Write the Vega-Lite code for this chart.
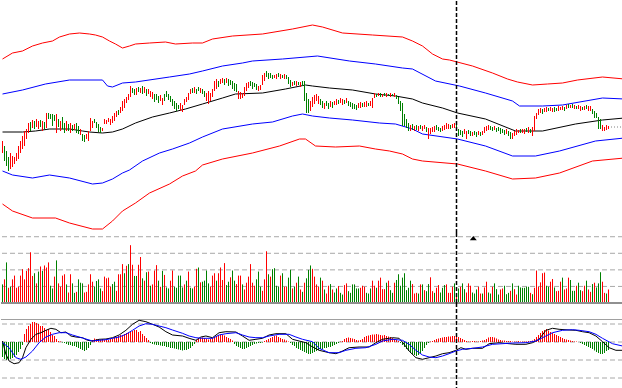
{
"$schema":"https://vega.github.io/schema/vega-lite/v6.json",
"padding":0,"spacing":0,"bounds":"flush","background":"white",
"config":{"view":{"stroke":null}},
"datasets":{
"bars":[
{"i":0,"h":160,"l":148,"u":1,"v":55,"w":0,"m":-15},{"i":1,"h":155,"l":140,"u":0,"v":70,"w":1,"m":-17},{"i":2,"h":150,"l":135,"u":0,"v":120,"w":0,"m":-18},{"i":3,"h":144,"l":130,"u":0,"v":45,"w":1,"m":-18},{"i":4,"h":148,"l":132,"u":1,"v":48,"w":0,"m":-17},{"i":5,"h":145,"l":134,"u":1,"v":70,"w":1,"m":-16},{"i":6,"h":144,"l":137,"u":1,"v":81,"w":1,"m":-15},{"i":7,"h":148,"l":140,"u":1,"v":45,"w":1,"m":-13},{"i":8,"h":155,"l":142,"u":1,"v":48,"w":1,"m":-10},{"i":9,"h":160,"l":148,"u":1,"v":81,"w":1,"m":-7},
{"i":10,"h":165,"l":152,"u":1,"v":100,"w":1,"m":-3},{"i":11,"h":170,"l":155,"u":1,"v":70,"w":1,"m":8},{"i":12,"h":172,"l":162,"u":1,"v":95,"w":1,"m":13},{"i":13,"h":178,"l":168,"u":1,"v":103,"w":1,"m":16},{"i":14,"h":179,"l":170,"u":0,"v":150,"w":1,"m":18},{"i":15,"h":181,"l":173,"u":1,"v":80,"w":1,"m":20},{"i":16,"h":180,"l":172,"u":0,"v":88,"w":0,"m":20},{"i":17,"h":182,"l":174,"u":1,"v":58,"w":1,"m":19},{"i":18,"h":180,"l":172,"u":1,"v":93,"w":0,"m":18},{"i":19,"h":181,"l":174,"u":0,"v":108,"w":1,"m":16},
{"i":20,"h":180,"l":170,"u":1,"v":95,"w":0,"m":16},{"i":21,"h":179,"l":172,"u":0,"v":111,"w":1,"m":14},{"i":22,"h":188,"l":173,"u":1,"v":105,"w":1,"m":12},{"i":23,"h":188,"l":182,"u":0,"v":120,"w":1,"m":13},{"i":24,"h":187,"l":182,"u":0,"v":51,"w":0,"m":10},{"i":25,"h":187,"l":175,"u":0,"v":43,"w":0,"m":7},{"i":26,"h":186,"l":180,"u":0,"v":78,"w":1,"m":6},{"i":27,"h":187,"l":168,"u":1,"v":126,"w":0,"m":3},{"i":28,"h":182,"l":174,"u":0,"v":58,"w":1,"m":1},{"i":29,"h":180,"l":170,"u":1,"v":48,"w":1,"m":0.5},
{"i":30,"h":184,"l":172,"u":0,"v":81,"w":1,"m":-0.5},{"i":31,"h":178,"l":168,"u":0,"v":85,"w":1,"m":-1},{"i":32,"h":180,"l":170,"u":1,"v":55,"w":0,"m":-2},{"i":33,"h":177,"l":170,"u":0,"v":31,"w":1,"m":-3},{"i":34,"h":178,"l":168,"u":1,"v":85,"w":1,"m":-3},{"i":35,"h":176,"l":170,"u":0,"v":58,"w":0,"m":-4},{"i":36,"h":177,"l":171,"u":1,"v":30,"w":0,"m":-4},{"i":37,"h":178,"l":168,"u":0,"v":33,"w":1,"m":-5},{"i":38,"h":175,"l":167,"u":0,"v":70,"w":0,"m":-6},{"i":39,"h":172,"l":166,"u":1,"v":60,"w":0,"m":-7},
{"i":40,"h":167,"l":160,"u":0,"v":58,"w":0,"m":-8},{"i":41,"h":166,"l":159,"u":0,"v":31,"w":1,"m":-9},{"i":42,"h":167,"l":162,"u":1,"v":33,"w":1,"m":-8},{"i":43,"h":170,"l":160,"u":1,"v":55,"w":1,"m":-6},{"i":44,"h":183,"l":170,"u":1,"v":85,"w":1,"m":-3},{"i":45,"h":180,"l":173,"u":1,"v":63,"w":1,"m":2},{"i":46,"h":182,"l":178,"u":0,"v":48,"w":0,"m":3.5},{"i":47,"h":179,"l":173,"u":0,"v":65,"w":0,"m":3},{"i":48,"h":177,"l":169,"u":0,"v":70,"w":0,"m":2.5},{"i":49,"h":174,"l":168,"u":0,"v":43,"w":0,"m":2},
{"i":50,"h":173,"l":170,"u":1,"v":35,"w":1,"m":3},{"i":51,"h":182,"l":177,"u":1,"v":78,"w":1,"m":2},{"i":52,"h":181,"l":177,"u":1,"v":73,"w":1,"m":2.5},{"i":53,"h":183,"l":179,"u":1,"v":75,"w":1,"m":2},{"i":54,"h":182,"l":176,"u":1,"v":48,"w":1,"m":3},{"i":55,"h":185,"l":178,"u":1,"v":56,"w":0,"m":3.5},{"i":56,"h":188,"l":180,"u":1,"v":63,"w":0,"m":5},{"i":57,"h":190,"l":184,"u":1,"v":36,"w":1,"m":5},{"i":58,"h":191,"l":186,"u":0,"v":85,"w":1,"m":6},{"i":59,"h":194,"l":188,"u":1,"v":85,"w":1,"m":7},
{"i":60,"h":200,"l":190,"u":1,"v":115,"w":1,"m":7},{"i":61,"h":202,"l":193,"u":1,"v":88,"w":0,"m":8},{"i":62,"h":204,"l":198,"u":1,"v":110,"w":1,"m":9},{"i":63,"h":207,"l":201,"u":1,"v":115,"w":0,"m":9.5},{"i":64,"h":215,"l":204,"u":1,"v":171,"w":1,"m":10},{"i":65,"h":213,"l":208,"u":0,"v":113,"w":1,"m":11},{"i":66,"h":212,"l":206,"u":0,"v":80,"w":0,"m":12},{"i":67,"h":213,"l":206,"u":1,"v":80,"w":0,"m":12},{"i":68,"h":214,"l":209,"u":0,"v":113,"w":1,"m":10},{"i":69,"h":213,"l":208,"u":1,"v":136,"w":1,"m":11},
{"i":70,"h":215,"l":207,"u":0,"v":73,"w":0,"m":8},{"i":71,"h":214,"l":208,"u":1,"v":66,"w":1,"m":6},{"i":72,"h":212,"l":205,"u":0,"v":91,"w":0,"m":4},{"i":73,"h":212,"l":207,"u":1,"v":93,"w":1,"m":2},{"i":74,"h":210,"l":204,"u":1,"v":51,"w":0,"m":-1},{"i":75,"h":209,"l":202,"u":1,"v":55,"w":1,"m":-2},{"i":76,"h":207,"l":199,"u":0,"v":96,"w":1,"m":-2.5},{"i":77,"h":207,"l":201,"u":0,"v":112,"w":1,"m":-3},{"i":78,"h":205,"l":198,"u":0,"v":66,"w":0,"m":-3},{"i":79,"h":206,"l":200,"u":1,"v":48,"w":1,"m":-3.5},
{"i":80,"h":203,"l":196,"u":1,"v":95,"w":0,"m":-4},{"i":81,"h":207,"l":200,"u":0,"v":83,"w":1,"m":-4},{"i":82,"h":210,"l":204,"u":0,"v":46,"w":0,"m":-5},{"i":83,"h":207,"l":201,"u":0,"v":43,"w":0,"m":-5},{"i":84,"h":205,"l":199,"u":0,"v":66,"w":1,"m":-6},{"i":85,"h":202,"l":195,"u":0,"v":96,"w":1,"m":-6},{"i":86,"h":200,"l":192,"u":0,"v":48,"w":0,"m":-6.5},{"i":87,"h":198,"l":190,"u":0,"v":45,"w":0,"m":-7},{"i":88,"h":196,"l":192,"u":0,"v":81,"w":0,"m":-7.5},{"i":89,"h":198,"l":190,"u":1,"v":81,"w":0,"m":-8},
{"i":90,"h":196,"l":189,"u":1,"v":46,"w":0,"m":-8.5},{"i":91,"h":202,"l":196,"u":1,"v":55,"w":1,"m":-8},{"i":92,"h":204,"l":199,"u":1,"v":66,"w":0,"m":-8},{"i":93,"h":208,"l":201,"u":1,"v":93,"w":1,"m":-7},{"i":94,"h":212,"l":207,"u":1,"v":45,"w":0,"m":-6},{"i":95,"h":213,"l":208,"u":0,"v":43,"w":0,"m":-4},{"i":96,"h":214,"l":208,"u":1,"v":48,"w":1,"m":-2},{"i":97,"h":212,"l":207,"u":0,"v":101,"w":1,"m":2},{"i":98,"h":214,"l":210,"u":0,"v":105,"w":0,"m":3},{"i":99,"h":213,"l":208,"u":1,"v":61,"w":1,"m":4},
{"i":100,"h":212,"l":207,"u":0,"v":63,"w":0,"m":4.5},{"i":101,"h":210,"l":204,"u":0,"v":66,"w":0,"m":4},{"i":102,"h":208,"l":200,"u":1,"v":96,"w":0,"m":3},{"i":103,"h":210,"l":197,"u":1,"v":58,"w":0,"m":2.5},{"i":104,"h":208,"l":200,"u":1,"v":48,"w":1,"m":3},{"i":105,"h":212,"l":204,"u":1,"v":81,"w":1,"m":4},{"i":106,"h":220,"l":210,"u":1,"v":88,"w":1,"m":5},{"i":107,"h":222,"l":212,"u":1,"v":66,"w":0,"m":6},{"i":108,"h":220,"l":214,"u":0,"v":88,"w":1,"m":7},{"i":109,"h":222,"l":217,"u":1,"v":105,"w":1,"m":7.5},
{"i":110,"h":223,"l":218,"u":1,"v":68,"w":1,"m":7},{"i":111,"h":222,"l":216,"u":0,"v":118,"w":1,"m":6.5},{"i":112,"h":223,"l":218,"u":1,"v":53,"w":0,"m":5},{"i":113,"h":222,"l":215,"u":0,"v":63,"w":0,"m":4},{"i":114,"h":221,"l":216,"u":0,"v":76,"w":1,"m":3},{"i":115,"h":220,"l":212,"u":0,"v":96,"w":0,"m":1.5},{"i":116,"h":218,"l":210,"u":0,"v":66,"w":0,"m":-2},{"i":117,"h":217,"l":209,"u":0,"v":56,"w":1,"m":-4},{"i":118,"h":210,"l":202,"u":1,"v":81,"w":1,"m":-5},{"i":119,"h":209,"l":202,"u":1,"v":81,"w":1,"m":-6},
{"i":120,"h":208,"l":203,"u":1,"v":55,"w":0,"m":-7},{"i":121,"h":214,"l":205,"u":1,"v":40,"w":1,"m":-7},{"i":122,"h":218,"l":210,"u":1,"v":60,"w":1,"m":-6},{"i":123,"h":219,"l":213,"u":1,"v":78,"w":1,"m":-5},{"i":124,"h":220,"l":215,"u":0,"v":115,"w":1,"m":-4},{"i":125,"h":219,"l":212,"u":0,"v":60,"w":1,"m":-3},{"i":126,"h":218,"l":214,"u":0,"v":51,"w":1,"m":-2},{"i":127,"h":217,"l":211,"u":0,"v":70,"w":0,"m":-1.5},{"i":128,"h":215,"l":210,"u":1,"v":93,"w":0,"m":-1},{"i":129,"h":216,"l":211,"u":1,"v":48,"w":0,"m":-1},
{"i":130,"h":226,"l":216,"u":1,"v":36,"w":1,"m":-0.5},{"i":131,"h":228,"l":220,"u":1,"v":70,"w":1,"m":1},{"i":132,"h":230,"l":224,"u":0,"v":153,"w":1,"m":2},{"i":133,"h":228,"l":222,"u":0,"v":85,"w":0,"m":3},{"i":134,"h":228,"l":223,"u":0,"v":78,"w":1,"m":4},{"i":135,"h":226,"l":222,"u":0,"v":100,"w":0,"m":5},{"i":136,"h":226,"l":223,"u":1,"v":103,"w":0,"m":6},{"i":137,"h":227,"l":222,"u":1,"v":51,"w":0,"m":6.5},{"i":138,"h":228,"l":224,"u":0,"v":48,"w":0,"m":5},{"i":139,"h":227,"l":222,"u":1,"v":81,"w":1,"m":4},
{"i":140,"h":226,"l":223,"u":0,"v":88,"w":0,"m":3},{"i":141,"h":227,"l":222,"u":1,"v":48,"w":1,"m":2.5},{"i":142,"h":226,"l":222,"u":0,"v":48,"w":1,"m":1.5},{"i":143,"h":224,"l":217,"u":0,"v":75,"w":0,"m":0.5},{"i":144,"h":221,"l":214,"u":0,"v":98,"w":0,"m":-1},{"i":145,"h":219,"l":215,"u":1,"v":43,"w":1,"m":-3},{"i":146,"h":220,"l":216,"u":0,"v":48,"w":0,"m":-4},{"i":147,"h":220,"l":215,"u":1,"v":60,"w":1,"m":-6},{"i":148,"h":219,"l":216,"u":0,"v":78,"w":0,"m":-7},{"i":149,"h":219,"l":214,"u":1,"v":40,"w":1,"m":-8},
{"i":150,"h":220,"l":215,"u":0,"v":33,"w":0,"m":-9},{"i":151,"h":220,"l":200,"u":0,"v":60,"w":1,"m":-10},{"i":152,"h":208,"l":188,"u":0,"v":73,"w":0,"m":-11},{"i":153,"h":202,"l":188,"u":0,"v":98,"w":0,"m":-12},{"i":154,"h":200,"l":190,"u":1,"v":111,"w":0,"m":-12},{"i":155,"h":204,"l":194,"u":1,"v":101,"w":1,"m":-11},{"i":156,"h":206,"l":197,"u":1,"v":78,"w":1,"m":-10},{"i":157,"h":207,"l":200,"u":1,"v":55,"w":1,"m":-9},{"i":158,"h":205,"l":197,"u":1,"v":48,"w":1,"m":-8},{"i":159,"h":202,"l":196,"u":0,"v":75,"w":0,"m":-7},
{"i":160,"h":200,"l":193,"u":0,"v":66,"w":1,"m":-7},{"i":161,"h":198,"l":192,"u":1,"v":40,"w":0,"m":-6},{"i":162,"h":200,"l":195,"u":0,"v":28,"w":1,"m":-6},{"i":163,"h":198,"l":192,"u":0,"v":51,"w":1,"m":-5},{"i":164,"h":200,"l":194,"u":1,"v":56,"w":0,"m":-5},{"i":165,"h":199,"l":193,"u":0,"v":40,"w":1,"m":-4},{"i":166,"h":200,"l":196,"u":1,"v":31,"w":0,"m":-3},{"i":167,"h":202,"l":196,"u":1,"v":43,"w":0,"m":-2},{"i":168,"h":201,"l":197,"u":0,"v":50,"w":1,"m":-1},{"i":169,"h":203,"l":198,"u":1,"v":30,"w":0,"m":0.5},
{"i":170,"h":202,"l":196,"u":1,"v":25,"w":0,"m":1},{"i":171,"h":201,"l":197,"u":0,"v":53,"w":1,"m":3},{"i":172,"h":203,"l":198,"u":1,"v":58,"w":1,"m":4},{"i":173,"h":200,"l":195,"u":0,"v":35,"w":0,"m":4.5},{"i":174,"h":199,"l":194,"u":0,"v":30,"w":0,"m":4},{"i":175,"h":198,"l":192,"u":0,"v":55,"w":0,"m":3.5},{"i":176,"h":197,"l":192,"u":0,"v":55,"w":0,"m":3},{"i":177,"h":196,"l":191,"u":0,"v":43,"w":0,"m":2},{"i":178,"h":198,"l":193,"u":1,"v":43,"w":0,"m":1.5},{"i":179,"h":199,"l":193,"u":1,"v":45,"w":1,"m":2},
{"i":180,"h":198,"l":194,"u":0,"v":51,"w":1,"m":3},{"i":181,"h":199,"l":194,"u":1,"v":48,"w":1,"m":5},{"i":182,"h":200,"l":194,"u":1,"v":30,"w":0,"m":6},{"i":183,"h":198,"l":195,"u":0,"v":28,"w":0,"m":6.5},{"i":184,"h":200,"l":195,"u":1,"v":43,"w":0,"m":7},{"i":185,"h":203,"l":193,"u":1,"v":66,"w":1,"m":7.5},{"i":186,"h":208,"l":203,"u":1,"v":51,"w":1,"m":7.5},{"i":187,"h":207,"l":204,"u":0,"v":45,"w":0,"m":8},{"i":188,"h":208,"l":205,"u":1,"v":66,"w":1,"m":7.5},{"i":189,"h":208,"l":204,"u":0,"v":75,"w":1,"m":7},
{"i":190,"h":207,"l":204,"u":1,"v":41,"w":1,"m":6.5},{"i":191,"h":208,"l":205,"u":0,"v":41,"w":1,"m":7},{"i":192,"h":208,"l":204,"u":1,"v":60,"w":0,"m":6},{"i":193,"h":207,"l":205,"u":0,"v":66,"w":1,"m":5.5},{"i":194,"h":208,"l":204,"u":1,"v":38,"w":0,"m":5},{"i":195,"h":207,"l":205,"u":0,"v":30,"w":0,"m":4},{"i":196,"h":208,"l":204,"u":1,"v":60,"w":1,"m":3},{"i":197,"h":206,"l":202,"u":0,"v":68,"w":0,"m":2},{"i":198,"h":204,"l":197,"u":0,"v":85,"w":0,"m":1},{"i":199,"h":200,"l":190,"u":0,"v":51,"w":0,"m":-1},
{"i":200,"h":198,"l":175,"u":0,"v":75,"w":0,"m":-3},{"i":201,"h":187,"l":175,"u":0,"v":88,"w":0,"m":-5},{"i":202,"h":182,"l":173,"u":0,"v":38,"w":0,"m":-7},{"i":203,"h":178,"l":170,"u":0,"v":45,"w":0,"m":-9},{"i":204,"h":176,"l":170,"u":1,"v":66,"w":0,"m":-11},{"i":205,"h":177,"l":171,"u":0,"v":56,"w":1,"m":-12.5},{"i":206,"h":175,"l":170,"u":1,"v":28,"w":1,"m":-13},{"i":207,"h":176,"l":171,"u":0,"v":30,"w":1,"m":-14},{"i":208,"h":175,"l":170,"u":1,"v":28,"w":0,"m":-13},{"i":209,"h":176,"l":172,"u":0,"v":55,"w":1,"m":-11},
{"i":210,"h":175,"l":170,"u":1,"v":55,"w":0,"m":-9},{"i":211,"h":176,"l":172,"u":1,"v":38,"w":1,"m":-6},{"i":212,"h":174,"l":169,"u":0,"v":35,"w":0,"m":-3},{"i":213,"h":173,"l":162,"u":1,"v":56,"w":0,"m":-1},{"i":214,"h":173,"l":167,"u":1,"v":76,"w":1,"m":0.5},{"i":215,"h":174,"l":169,"u":1,"v":35,"w":1,"m":1},{"i":216,"h":175,"l":169,"u":1,"v":30,"w":0,"m":2},{"i":217,"h":176,"l":171,"u":0,"v":45,"w":1,"m":3},{"i":218,"h":174,"l":170,"u":0,"v":53,"w":1,"m":3.5},{"i":219,"h":173,"l":169,"u":0,"v":31,"w":0,"m":4},
{"i":220,"h":175,"l":170,"u":1,"v":45,"w":0,"m":4.5},{"i":221,"h":176,"l":171,"u":1,"v":53,"w":0,"m":5},{"i":222,"h":178,"l":172,"u":1,"v":55,"w":1,"m":5},{"i":223,"h":177,"l":172,"u":1,"v":30,"w":1,"m":5.5},{"i":224,"h":176,"l":172,"u":0,"v":30,"w":1,"m":5.5},{"i":225,"h":177,"l":173,"u":1,"v":48,"w":1,"m":6},{"i":226,"h":178,"l":173,"u":1,"v":58,"w":0,"m":6},{"i":227,"h":176,"l":172,"u":0,"v":25,"w":1,"m":5.5},{"i":228,"h":172,"l":165,"u":0,"v":43,"w":0,"m":5},{"i":229,"h":171,"l":166,"u":0,"v":48,"w":1,"m":4},
{"i":230,"h":170,"l":164,"u":0,"v":58,"w":0,"m":3},{"i":231,"h":172,"l":167,"u":1,"v":41,"w":0,"m":2},{"i":232,"h":170,"l":162,"u":1,"v":31,"w":1,"m":1},{"i":233,"h":171,"l":167,"u":0,"v":58,"w":1,"m":0.5},{"i":234,"h":170,"l":165,"u":0,"v":51,"w":1,"m":0.5},{"i":235,"h":169,"l":165,"u":1,"v":31,"w":0,"m":1},{"i":236,"h":170,"l":166,"u":0,"v":28,"w":0,"m":1},{"i":237,"h":169,"l":164,"u":0,"v":40,"w":0,"m":0.5},{"i":238,"h":170,"l":166,"u":1,"v":48,"w":1,"m":0.5},{"i":239,"h":169,"l":165,"u":0,"v":28,"w":1,"m":1},
{"i":240,"h":170,"l":166,"u":1,"v":28,"w":0,"m":1.5},{"i":241,"h":174,"l":168,"u":1,"v":46,"w":1,"m":2},{"i":242,"h":175,"l":170,"u":1,"v":63,"w":1,"m":3},{"i":243,"h":176,"l":171,"u":1,"v":31,"w":0,"m":4.5},{"i":244,"h":175,"l":171,"u":0,"v":28,"w":0,"m":5},{"i":245,"h":174,"l":170,"u":0,"v":48,"w":1,"m":5},{"i":246,"h":175,"l":171,"u":1,"v":58,"w":0,"m":4.5},{"i":247,"h":173,"l":169,"u":0,"v":41,"w":0,"m":3.5},{"i":248,"h":174,"l":170,"u":0,"v":25,"w":0,"m":2.5},{"i":249,"h":173,"l":167,"u":0,"v":40,"w":1,"m":2},
{"i":250,"h":172,"l":168,"u":0,"v":43,"w":1,"m":1.5},{"i":251,"h":171,"l":166,"u":0,"v":51,"w":0,"m":1.5},{"i":252,"h":172,"l":167,"u":1,"v":26,"w":0,"m":1},{"i":253,"h":170,"l":165,"u":0,"v":30,"w":0,"m":1},{"i":254,"h":169,"l":162,"u":0,"v":36,"w":1,"m":1},{"i":255,"h":168,"l":162,"u":1,"v":58,"w":0,"m":0.5},{"i":256,"h":170,"l":165,"u":1,"v":41,"w":1,"m":0.5},{"i":257,"h":172,"l":166,"u":1,"v":25,"w":1,"m":0.5},{"i":258,"h":171,"l":168,"u":1,"v":51,"w":0,"m":1},{"i":259,"h":172,"l":168,"u":0,"v":46,"w":0,"m":0.5},
{"i":260,"h":172,"l":168,"u":1,"v":45,"w":0,"m":0.5},{"i":261,"h":172,"l":167,"u":1,"v":45,"w":0,"m":0.5},{"i":262,"h":173,"l":169,"u":0,"v":48,"w":0,"m":0.5},{"i":263,"h":174,"l":168,"u":1,"v":48,"w":0,"m":1},{"i":264,"h":172,"l":168,"u":0,"v":30,"w":1,"m":1},{"i":265,"h":174,"l":165,"u":1,"v":26,"w":0,"m":1.5},{"i":266,"h":185,"l":170,"u":1,"v":45,"w":1,"m":3},{"i":267,"h":188,"l":182,"u":1,"v":96,"w":1,"m":5},{"i":268,"h":192,"l":186,"u":1,"v":48,"w":1,"m":7},{"i":269,"h":193,"l":188,"u":1,"v":61,"w":1,"m":9},
{"i":270,"h":192,"l":187,"u":0,"v":88,"w":1,"m":11},{"i":271,"h":193,"l":189,"u":1,"v":90,"w":1,"m":12},{"i":272,"h":194,"l":189,"u":1,"v":51,"w":0,"m":13},{"i":273,"h":193,"l":190,"u":0,"v":48,"w":0,"m":11.5},{"i":274,"h":194,"l":190,"u":1,"v":63,"w":1,"m":10},{"i":275,"h":193,"l":189,"u":1,"v":71,"w":1,"m":9},{"i":276,"h":194,"l":189,"u":0,"v":46,"w":0,"m":8},{"i":277,"h":193,"l":190,"u":0,"v":35,"w":1,"m":7},{"i":278,"h":195,"l":190,"u":1,"v":36,"w":1,"m":6},{"i":279,"h":194,"l":191,"u":1,"v":63,"w":1,"m":5},
{"i":280,"h":195,"l":191,"u":1,"v":75,"w":0,"m":4},{"i":281,"h":194,"l":190,"u":0,"v":40,"w":1,"m":3},{"i":282,"h":196,"l":192,"u":1,"v":43,"w":1,"m":2.5},{"i":283,"h":197,"l":193,"u":0,"v":75,"w":1,"m":2},{"i":284,"h":196,"l":193,"u":1,"v":68,"w":0,"m":1.5},{"i":285,"h":197,"l":193,"u":0,"v":36,"w":0,"m":1},{"i":286,"h":196,"l":192,"u":1,"v":36,"w":0,"m":0.5},{"i":287,"h":195,"l":192,"u":0,"v":51,"w":1,"m":0.5},{"i":288,"h":196,"l":192,"u":1,"v":60,"w":0,"m":0},{"i":289,"h":195,"l":190,"u":1,"v":38,"w":0,"m":-1},
{"i":290,"h":194,"l":191,"u":0,"v":35,"w":1,"m":-2},{"i":291,"h":195,"l":191,"u":1,"v":51,"w":1,"m":-3},{"i":292,"h":196,"l":192,"u":0,"v":66,"w":0,"m":-4},{"i":293,"h":195,"l":190,"u":1,"v":40,"w":1,"m":-5},{"i":294,"h":195,"l":190,"u":1,"v":33,"w":1,"m":-6},{"i":295,"h":192,"l":187,"u":0,"v":56,"w":0,"m":-7},{"i":296,"h":190,"l":183,"u":0,"v":60,"w":1,"m":-8.5},{"i":297,"h":188,"l":183,"u":0,"v":46,"w":0,"m":-10},{"i":298,"h":184,"l":172,"u":0,"v":58,"w":0,"m":-11},{"i":299,"h":182,"l":172,"u":0,"v":91,"w":0,"m":-12},
{"i":300,"h":176,"l":170,"u":1,"v":63,"w":1,"m":-12},{"i":301,"h":174,"l":170,"u":1,"v":30,"w":1,"m":-11},{"i":302,"h":176,"l":171,"u":1,"v":28,"w":0,"m":-9},{"i":303,"h":175,"l":172,"u":1,"v":40,"w":1,"m":-8}
],
"bands":[
{"b":"ur","i":0,"p":242},{"b":"ur","i":5,"p":248},{"b":"ur","i":10,"p":250},{"b":"ur","i":15,"p":255},{"b":"ur","i":20,"p":258},{"b":"ur","i":25,"p":260},{"b":"ur","i":28.5,"p":264},{"b":"ur","i":33.5,"p":267},{"b":"ur","i":38.5,"p":268},{"b":"ur","i":43.5,"p":267},{"b":"ur","i":46.5,"p":266},{"b":"ur","i":50,"p":264},{"b":"ur","i":53.5,"p":260},{"b":"ur","i":56.5,"p":257},{"b":"ur","i":60,"p":253},{"b":"ur","i":63.5,"p":255},{"b":"ur","i":66.5,"p":257},{"b":"ur","i":73.5,"p":258},{"b":"ur","i":81.5,"p":259},{"b":"ur","i":86.5,"p":257},{"b":"ur","i":95,"p":258},{"b":"ur","i":100,"p":258},{"b":"ur","i":105,"p":262},{"b":"ur","i":115,"p":265},{"b":"ur","i":130,"p":267},{"b":"ur","i":145,"p":272},{"b":"ur","i":155,"p":276},{"b":"ur","i":160,"p":274},{"b":"ur","i":170,"p":268},{"b":"ur","i":185,"p":266},{"b":"ur","i":200,"p":264},{"b":"ur","i":205,"p":260},{"b":"ur","i":210,"p":255},{"b":"ur","i":215,"p":247},{"b":"ur","i":220,"p":242},{"b":"ur","i":223.5,"p":241},{"b":"ur","i":235,"p":235},{"b":"ur","i":245,"p":228},{"b":"ur","i":252.5,"p":222},{"b":"ur","i":257.5,"p":219},{"b":"ur","i":265,"p":216},{"b":"ur","i":272.5,"p":217},{"b":"ur","i":280,"p":218},{"b":"ur","i":287.5,"p":221},{"b":"ur","i":300,"p":224},{"b":"ur","i":311,"p":222},
{"b":"ub","i":0,"p":207},{"b":"ub","i":10,"p":211},{"b":"ub","i":21.5,"p":217},{"b":"ub","i":33.5,"p":221},{"b":"ub","i":50,"p":221},{"b":"ub","i":52.5,"p":215},{"b":"ub","i":55,"p":214},{"b":"ub","i":60,"p":218},{"b":"ub","i":66.5,"p":219},{"b":"ub","i":83.5,"p":224},{"b":"ub","i":93.5,"p":227},{"b":"ub","i":100,"p":230},{"b":"ub","i":110,"p":235},{"b":"ub","i":120,"p":238},{"b":"ub","i":125,"p":240},{"b":"ub","i":140,"p":242},{"b":"ub","i":157.5,"p":245},{"b":"ub","i":173.5,"p":240},{"b":"ub","i":186.5,"p":237},{"b":"ub","i":200,"p":233},{"b":"ub","i":205,"p":232},{"b":"ub","i":216.5,"p":220},{"b":"ub","i":228.5,"p":215},{"b":"ub","i":241.5,"p":208},{"b":"ub","i":255,"p":200},{"b":"ub","i":258.5,"p":195},{"b":"ub","i":270,"p":195},{"b":"ub","i":280,"p":196},{"b":"ub","i":300,"p":203},{"b":"ub","i":311,"p":202},
{"b":"mb","i":0,"p":169},{"b":"mb","i":10,"p":169},{"b":"mb","i":16.5,"p":170},{"b":"mb","i":23.5,"p":172},{"b":"mb","i":33.5,"p":172},{"b":"mb","i":40,"p":170},{"b":"mb","i":43.5,"p":169},{"b":"mb","i":50,"p":168},{"b":"mb","i":55,"p":169},{"b":"mb","i":60,"p":172},{"b":"mb","i":66.5,"p":178},{"b":"mb","i":75,"p":184},{"b":"mb","i":83.5,"p":188},{"b":"mb","i":91.5,"p":192},{"b":"mb","i":100,"p":197},{"b":"mb","i":110,"p":203},{"b":"mb","i":116.5,"p":207},{"b":"mb","i":130,"p":208},{"b":"mb","i":141.5,"p":212},{"b":"mb","i":151.5,"p":216},{"b":"mb","i":155,"p":215},{"b":"mb","i":163.5,"p":213},{"b":"mb","i":175,"p":211},{"b":"mb","i":186.5,"p":207},{"b":"mb","i":196.5,"p":205},{"b":"mb","i":205,"p":202},{"b":"mb","i":210,"p":198},{"b":"mb","i":220,"p":193},{"b":"mb","i":227.5,"p":188},{"b":"mb","i":241.5,"p":182},{"b":"mb","i":256.5,"p":170},{"b":"mb","i":270,"p":170},{"b":"mb","i":286.5,"p":177},{"b":"mb","i":300,"p":181},{"b":"mb","i":311,"p":183},
{"b":"lb","i":0,"p":130},{"b":"lb","i":5,"p":126},{"b":"lb","i":15,"p":123},{"b":"lb","i":23.5,"p":126},{"b":"lb","i":33.5,"p":123},{"b":"lb","i":45,"p":117},{"b":"lb","i":50,"p":118},{"b":"lb","i":55,"p":122},{"b":"lb","i":60,"p":128},{"b":"lb","i":63.5,"p":131},{"b":"lb","i":70,"p":140},{"b":"lb","i":78.5,"p":148},{"b":"lb","i":85,"p":152},{"b":"lb","i":93.5,"p":158},{"b":"lb","i":100,"p":164},{"b":"lb","i":110,"p":172},{"b":"lb","i":125,"p":177},{"b":"lb","i":135,"p":179},{"b":"lb","i":145,"p":185},{"b":"lb","i":150,"p":187},{"b":"lb","i":155,"p":185},{"b":"lb","i":163.5,"p":183},{"b":"lb","i":175,"p":181},{"b":"lb","i":188.5,"p":178},{"b":"lb","i":196.5,"p":177},{"b":"lb","i":205,"p":172},{"b":"lb","i":210,"p":167},{"b":"lb","i":227.5,"p":162},{"b":"lb","i":241.5,"p":155},{"b":"lb","i":255,"p":145},{"b":"lb","i":266.5,"p":145},{"b":"lb","i":278.5,"p":150},{"b":"lb","i":296.5,"p":160},{"b":"lb","i":311,"p":163},
{"b":"lr","i":0,"p":97},{"b":"lr","i":5,"p":90},{"b":"lr","i":15,"p":83},{"b":"lr","i":26.5,"p":83},{"b":"lr","i":33.5,"p":78},{"b":"lr","i":45,"p":72},{"b":"lr","i":50,"p":72},{"b":"lr","i":55,"p":80},{"b":"lr","i":60,"p":90},{"b":"lr","i":66.5,"p":98},{"b":"lr","i":73.5,"p":108},{"b":"lr","i":83.5,"p":117},{"b":"lr","i":90,"p":125},{"b":"lr","i":96.5,"p":130},{"b":"lr","i":100,"p":136},{"b":"lr","i":110,"p":142},{"b":"lr","i":125,"p":148},{"b":"lr","i":138.5,"p":155},{"b":"lr","i":148.5,"p":162},{"b":"lr","i":151.5,"p":162},{"b":"lr","i":156.5,"p":155},{"b":"lr","i":166.5,"p":154},{"b":"lr","i":178.5,"p":155},{"b":"lr","i":186.5,"p":152},{"b":"lr","i":193.5,"p":150},{"b":"lr","i":200,"p":147},{"b":"lr","i":205,"p":142},{"b":"lr","i":210,"p":140},{"b":"lr","i":227.5,"p":137},{"b":"lr","i":241.5,"p":130},{"b":"lr","i":255,"p":122},{"b":"lr","i":266.5,"p":123},{"b":"lr","i":278.5,"p":128},{"b":"lr","i":295,"p":140},{"b":"lr","i":311,"p":143}
],
"macd":[
{"k":"a","i":0,"m":1},{"k":"a","i":1.7,"m":-12.3},{"k":"a","i":3.3,"m":-19},{"k":"a","i":5.8,"m":-21.7},{"k":"a","i":8.3,"m":-20.7},{"k":"a","i":10,"m":-15.7},{"k":"a","i":11.7,"m":-5.7},{"k":"a","i":14.2,"m":2.7},{"k":"a","i":16.7,"m":7.7},{"k":"a","i":19.2,"m":9.3},{"k":"a","i":21.7,"m":11.7},{"k":"a","i":24.2,"m":13.7},{"k":"a","i":26.7,"m":12.7},{"k":"a","i":29.2,"m":9.3},{"k":"a","i":31.7,"m":10},{"k":"a","i":34.2,"m":6},{"k":"a","i":36.7,"m":5},{"k":"a","i":40,"m":4.3},{"k":"a","i":42.5,"m":1.7},{"k":"a","i":45,"m":1},{"k":"a","i":48.3,"m":2.7},{"k":"a","i":51.7,"m":3},{"k":"a","i":55,"m":4.3},{"k":"a","i":58.3,"m":7},{"k":"a","i":61.7,"m":11.7},{"k":"a","i":65,"m":17.7},{"k":"a","i":68.3,"m":21.7},{"k":"a","i":71.7,"m":20.3},{"k":"a","i":75,"m":17.7},{"k":"a","i":78.3,"m":15},{"k":"a","i":81.7,"m":10.3},{"k":"a","i":85,"m":7},{"k":"a","i":90,"m":6},{"k":"a","i":93.3,"m":3.7},{"k":"a","i":96.7,"m":1.7},{"k":"a","i":99.2,"m":5},{"k":"a","i":101.7,"m":6},{"k":"a","i":105,"m":4.3},{"k":"a","i":108.3,"m":9.3},{"k":"a","i":111.7,"m":10.3},{"k":"a","i":116.7,"m":10},{"k":"a","i":120,"m":6},{"k":"a","i":123.3,"m":1.7},{"k":"a","i":126.7,"m":2.7},{"k":"a","i":130,"m":3.7},{"k":"a","i":133.3,"m":7},{"k":"a","i":136.7,"m":8.3},{"k":"a","i":141.7,"m":8.3},{"k":"a","i":145,"m":2.7},{"k":"a","i":148.3,"m":1},{"k":"a","i":151.7,"m":-0.7},{"k":"a","i":154.2,"m":-4},{"k":"a","i":158.3,"m":-8.3},{"k":"a","i":163.3,"m":-10.7},{"k":"a","i":166.7,"m":-11.7},{"k":"a","i":170,"m":-9},{"k":"a","i":173.3,"m":-5.7},{"k":"a","i":178.3,"m":-5},{"k":"a","i":183.3,"m":-5},{"k":"a","i":186.7,"m":-0.7},{"k":"a","i":190,"m":2.7},{"k":"a","i":195,"m":4.3},{"k":"a","i":198.3,"m":3.7},{"k":"a","i":200.8,"m":-2.3},{"k":"a","i":203.3,"m":-9},{"k":"a","i":206.7,"m":-15.7},{"k":"a","i":210,"m":-17.3},{"k":"a","i":213.3,"m":-15.7},{"k":"a","i":216.7,"m":-14},{"k":"a","i":220,"m":-11.7},{"k":"a","i":223.3,"m":-10.7},{"k":"a","i":226.7,"m":-8.3},{"k":"a","i":229.2,"m":-5.7},{"k":"a","i":231.7,"m":-7.3},{"k":"a","i":235,"m":-6.3},{"k":"a","i":240,"m":-6.3},{"k":"a","i":243.3,"m":-1.7},{"k":"a","i":248.3,"m":-0.7},{"k":"a","i":253.3,"m":-1.7},{"k":"a","i":256.7,"m":-2.3},{"k":"a","i":261.7,"m":-2.3},{"k":"a","i":265,"m":-0.7},{"k":"a","i":268.3,"m":2.7},{"k":"a","i":271.7,"m":11.7},{"k":"a","i":275,"m":13.7},{"k":"a","i":278.3,"m":12.7},{"k":"a","i":283.3,"m":12},{"k":"a","i":286.7,"m":11.7},{"k":"a","i":290,"m":10.3},{"k":"a","i":293.3,"m":9.3},{"k":"a","i":296.7,"m":6},{"k":"a","i":300,"m":0.3},{"k":"a","i":303.3,"m":-5.7},{"k":"a","i":306.7,"m":-8.3},{"k":"a","i":310,"m":-8.3},
{"k":"s","i":0,"m":-0.7},{"k":"s","i":3.3,"m":-5.7},{"k":"s","i":6.7,"m":-15.7},{"k":"s","i":9.2,"m":-17.3},{"k":"s","i":11.7,"m":-15},{"k":"s","i":15,"m":-9},{"k":"s","i":18.3,"m":-0.7},{"k":"s","i":21.7,"m":5},{"k":"s","i":25,"m":7.7},{"k":"s","i":28.3,"m":9.3},{"k":"s","i":31.7,"m":9.3},{"k":"s","i":35,"m":7},{"k":"s","i":38.3,"m":5},{"k":"s","i":41.7,"m":3},{"k":"s","i":45,"m":1},{"k":"s","i":48.3,"m":1.7},{"k":"s","i":51.7,"m":2.3},{"k":"s","i":55,"m":3.7},{"k":"s","i":58.3,"m":5},{"k":"s","i":61.7,"m":7.7},{"k":"s","i":65,"m":11.7},{"k":"s","i":68.3,"m":16},{"k":"s","i":71.7,"m":18.3},{"k":"s","i":75,"m":17.7},{"k":"s","i":78.3,"m":16},{"k":"s","i":81.7,"m":14.3},{"k":"s","i":85,"m":12},{"k":"s","i":90,"m":8.7},{"k":"s","i":93.3,"m":6},{"k":"s","i":96.7,"m":4.3},{"k":"s","i":100,"m":3.7},{"k":"s","i":105,"m":3.7},{"k":"s","i":108.3,"m":7},{"k":"s","i":111.7,"m":8.3},{"k":"s","i":116.7,"m":9.3},{"k":"s","i":120,"m":7},{"k":"s","i":123.3,"m":5},{"k":"s","i":126.7,"m":4.3},{"k":"s","i":130,"m":4.3},{"k":"s","i":133.3,"m":6},{"k":"s","i":138.3,"m":7.7},{"k":"s","i":143.3,"m":7.7},{"k":"s","i":146.7,"m":5},{"k":"s","i":150,"m":2.7},{"k":"s","i":155,"m":0.3},{"k":"s","i":158.3,"m":-6.3},{"k":"s","i":163.3,"m":-10.7},{"k":"s","i":168.3,"m":-10.7},{"k":"s","i":171.7,"m":-8.3},{"k":"s","i":176.7,"m":-6.3},{"k":"s","i":181.7,"m":-5.7},{"k":"s","i":186.7,"m":-2.3},{"k":"s","i":190,"m":1},{"k":"s","i":195,"m":2.7},{"k":"s","i":200,"m":1.7},{"k":"s","i":203.3,"m":-2.3},{"k":"s","i":206.7,"m":-8.3},{"k":"s","i":210,"m":-13},{"k":"s","i":213.3,"m":-15},{"k":"s","i":216.7,"m":-15.7},{"k":"s","i":220,"m":-14},{"k":"s","i":223.3,"m":-11.7},{"k":"s","i":226.7,"m":-9},{"k":"s","i":230,"m":-7.3},{"k":"s","i":235,"m":-6.3},{"k":"s","i":240,"m":-5},{"k":"s","i":245,"m":-2.3},{"k":"s","i":250,"m":-1.7},{"k":"s","i":255,"m":-1},{"k":"s","i":261.7,"m":-0.7},{"k":"s","i":266.7,"m":1},{"k":"s","i":271.7,"m":6},{"k":"s","i":275,"m":9.3},{"k":"s","i":280,"m":11.7},{"k":"s","i":285,"m":12.3},{"k":"s","i":288.3,"m":11.7},{"k":"s","i":293.3,"m":10.3},{"k":"s","i":296.7,"m":7.7},{"k":"s","i":300,"m":3.7},{"k":"s","i":305,"m":-1.7},{"k":"s","i":310,"m":-4}
]
},
"vconcat":[
{"width":622,"height":232,
"layer":[
{"data":{"name":"bands"},"mark":{"type":"line","strokeWidth":1},
"encoding":{"x":{"field":"i","type":"quantitative","scale":{"domain":[-0.75,310.25]},"axis":null},
"y":{"field":"p","type":"quantitative","scale":{"domain":[68,300]},"axis":null},
"detail":{"field":"b"},
"color":{"condition":[{"test":"datum.b=='ur'||datum.b=='lr'","value":"#FF0000"},{"test":"datum.b=='mb'","value":"#000000"}],"value":"#0000FF"}}},
{"data":{"name":"bars"},"mark":{"type":"rule","strokeWidth":1},
"encoding":{"x":{"field":"i","type":"quantitative","scale":{"domain":[-0.75,310.25]},"axis":null},
"y":{"field":"h","type":"quantitative","scale":{"domain":[68,300]},"axis":null},
"y2":{"field":"l"},
"color":{"condition":{"test":"datum.u==1","value":"#FF0000"},"value":"#008000"}}},
{"data":{"values":[{"a":304.25,"b":310.25,"p":174}]},"mark":{"type":"rule","strokeWidth":1,"strokeDash":[1,2],"color":"#808080"},
"encoding":{"x":{"field":"a","type":"quantitative","scale":{"domain":[-0.75,310.25]},"axis":null},"x2":{"field":"b"},
"y":{"field":"p","type":"quantitative","scale":{"domain":[68,300]},"axis":null}}},
{"data":{"values":[{"x":227}]},"mark":{"type":"rule","strokeWidth":1.5,"strokeDash":[4,2],"color":"#000000"},
"encoding":{"x":{"field":"x","type":"quantitative","scale":{"domain":[-0.75,310.25]},"axis":null}}}
]},
{"width":622,"height":70,
"layer":[
{"data":{"values":[{"g":49},{"g":98},{"g":147},{"g":196}]},"mark":{"type":"rule","strokeWidth":1,"strokeDash":[5,3],"color":"#A8A8A8"},
"encoding":{"y":{"field":"g","type":"quantitative","scale":{"domain":[0,207]},"axis":null}}},
{"data":{"name":"bars"},"mark":{"type":"rule","strokeWidth":1},
"encoding":{"x":{"field":"i","type":"quantitative","scale":{"domain":[-0.75,310.25]},"axis":null},
"y":{"field":"v","type":"quantitative","scale":{"domain":[0,207]},"axis":null},
"y2":{"datum":0},
"color":{"condition":{"test":"datum.w==1","value":"#FF0000"},"value":"#008000"}}},
{"data":{"values":[{"g":0}]},"mark":{"type":"rule","strokeWidth":2,"color":"#909090"},
"encoding":{"y":{"field":"g","type":"quantitative","scale":{"domain":[0,207]},"axis":null}}},
{"data":{"values":[{"x":235.4,"y":192}]},"mark":{"type":"point","filled":true,"opacity":1,"color":"#000000","shape":"M-1,0.6L0,-0.6L1,0.6Z","size":49},
"encoding":{"x":{"field":"x","type":"quantitative","scale":{"domain":[-0.75,310.25]},"axis":null},
"y":{"field":"y","type":"quantitative","scale":{"domain":[0,207]},"axis":null}}},
{"data":{"values":[{"x":227}]},"mark":{"type":"rule","strokeWidth":1.5,"strokeDash":[4,2],"color":"#000000"},
"encoding":{"x":{"field":"x","type":"quantitative","scale":{"domain":[-0.75,310.25]},"axis":null}}}
]},
{"width":622,"height":86,
"layer":[
{"data":{"values":[{"g":18},{"g":0},{"g":-18},{"g":-36}]},"mark":{"type":"rule","strokeWidth":1,"strokeDash":[5,3],"color":"#A8A8A8"},
"encoding":{"y":{"field":"g","type":"quantitative","scale":{"domain":[-47,39]},"axis":null}}},
{"data":{"values":[{"g":22.5}]},"mark":{"type":"rule","strokeWidth":1,"color":"#A0A0A0"},
"encoding":{"y":{"field":"g","type":"quantitative","scale":{"domain":[-47,39]},"axis":null}}},
{"data":{"name":"bars"},"mark":{"type":"rule","strokeWidth":1},
"encoding":{"x":{"field":"i","type":"quantitative","scale":{"domain":[-0.75,310.25]},"axis":null},
"y":{"field":"m","type":"quantitative","scale":{"domain":[-47,39]},"axis":null},
"y2":{"datum":0},
"color":{"condition":{"test":"datum.m>0","value":"#FF0000"},"value":"#008000"}}},
{"data":{"name":"macd"},"mark":{"type":"line","strokeWidth":1},
"encoding":{"x":{"field":"i","type":"quantitative","scale":{"domain":[-0.75,310.25]},"axis":null},
"y":{"field":"m","type":"quantitative","scale":{"domain":[-47,39]},"axis":null},
"detail":{"field":"k"},
"color":{"condition":{"test":"datum.k=='a'","value":"#000000"},"value":"#0000FF"}}},
{"data":{"values":[{"x":227}]},"mark":{"type":"rule","strokeWidth":1.5,"strokeDash":[4,2],"color":"#000000"},
"encoding":{"x":{"field":"x","type":"quantitative","scale":{"domain":[-0.75,310.25]},"axis":null}}}
]}
]
}
